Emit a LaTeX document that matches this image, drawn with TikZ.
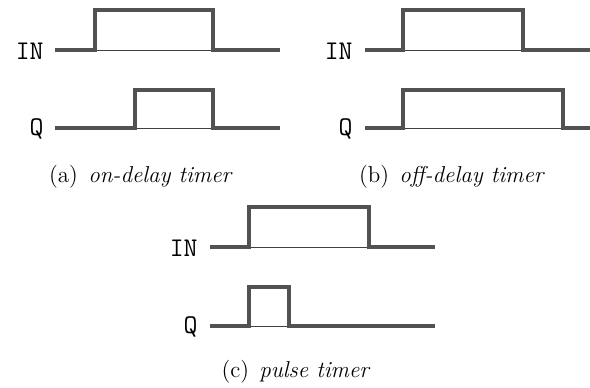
\documentclass[tikz,border=0pt]{standalone}
\usetikzlibrary{positioning}
\tikzset{
  signal/.style={line width=2pt, draw=black!68},
  base/.style={line width=0.5pt, draw=black!75},
  lbl/.style={font=\ttfamily\fontsize{13.5}{15}\selectfont, inner sep=0pt, anchor=east},
  capt/.style={font=\fontsize{11.5}{13}\selectfont, inner sep=0pt},
}
\newcommand{\subcap}[2]{(#1)\hskip0.45em\textit{#2}}
\begin{document}
\begin{tikzpicture}[x=0.5pt, y=-0.5pt]
    \useasboundingbox (0,0) rectangle (590,387);

    % (a) on-delay
    \node[lbl] (inA) at (44,51) {IN};
    \node[lbl] (qA) at (44,129) {Q};
    \draw[base] (95,50) -- (213,50);
    \draw[signal] (55,50) -- (95,50) -- (95,10) -- (213,10) -- (213,50) -- (280,50);
    \draw[base] (135,128) -- (213,128);
    \draw[signal] (55,128) -- (135,128) -- (135,90) -- (213,90) -- (213,128) -- (280,128);
    \node[capt] (capA) at (141,177) {\subcap{a}{on-delay timer}};

    % (b) off-delay
    \node[lbl] (inB) at (353,51) {IN};
    \node[lbl] (qB) at (353,129) {Q};
    \draw[base] (403,50) -- (523,50);
    \draw[signal] (365,50) -- (403,50) -- (403,10) -- (523,10) -- (523,50) -- (592,50);
    \draw[base] (403,128) -- (563,128);
    \draw[signal] (365,128) -- (403,128) -- (403,90) -- (563,90) -- (563,128) -- (592,128);
    \node[capt] (capB) at (452,177) {\subcap{b}{off-delay timer}};

    % (c) pulse
    \node[lbl] (inC) at (198,248) {IN};
    \node[lbl] (qC) at (198,327) {Q};
    \draw[base] (249,247) -- (369,247);
    \draw[signal] (210,247) -- (249,247) -- (249,207) -- (369,207) -- (369,247) -- (435,247);
    \draw[base] (249,326) -- (289,326);
    \draw[signal] (210,326) -- (249,326) -- (249,287) -- (289,287) -- (289,326) -- (435,326);
    \node[capt] (capC) at (296,372) {\subcap{c}{pulse timer}};

\end{tikzpicture}
\end{document}
